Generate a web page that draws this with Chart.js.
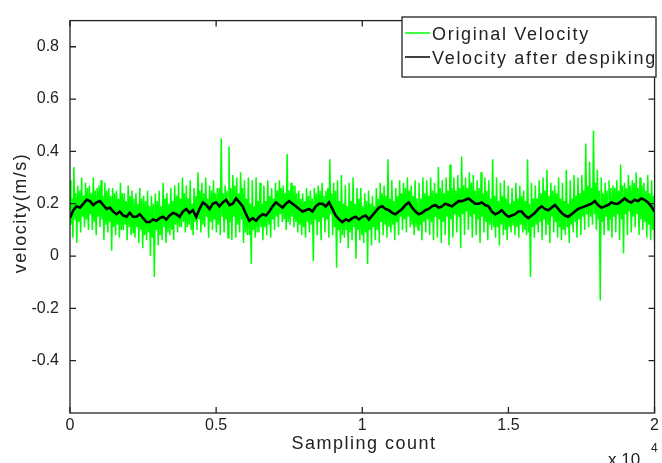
<!DOCTYPE html>
<html>
<head>
<meta charset="utf-8">
<script src="https://cdn.jsdelivr.net/npm/chart.js@4.4.1/dist/chart.umd.min.js"></script>
<style>
  html, body { margin: 0; padding: 0; background: #fff; }
  #wrap { width: 662px; height: 463px; }
</style>
</head>
<body>
<div id="wrap"><canvas id="chart" width="662" height="463"></canvas></div>
<script>
// x axis runs over 2 x 10^4 samples, ticks shown as multiples of 10^4
const sampleCount = 20000;
const xTicks = [0, 5000, 10000, 15000, 20000];
const yTicks = [-0.4, -0.2, 0, 0.2, 0.4, 0.6, 0.8];

// original (spiky) velocity: outer peaks / troughs
const originalPeaks = [
  0.29, 0.34, 0.27, 0.30, 0.28, 0.27, 0.30, 0.26, 0.29, 0.28,
  0.26, 0.26, 0.25, 0.28, 0.24, 0.27, 0.25, 0.24, 0.26, 0.23,
  0.25, 0.23, 0.24, 0.25, 0.28, 0.24, 0.26, 0.27, 0.28, 0.30,
  0.27, 0.29, 0.26, 0.32, 0.28, 0.30, 0.27, 0.29, 0.26, 0.45,
  0.27, 0.42, 0.31, 0.30, 0.32, 0.29, 0.30, 0.29, 0.30, 0.28,
  0.27, 0.29, 0.26, 0.28, 0.29, 0.27, 0.39, 0.28, 0.27, 0.25,
  0.24, 0.26, 0.25, 0.26, 0.27, 0.28, 0.25, 0.37, 0.28, 0.29,
  0.31, 0.27, 0.28, 0.30, 0.26, 0.26, 0.24, 0.25, 0.23, 0.26,
  0.28, 0.27, 0.37, 0.29, 0.26, 0.29, 0.28, 0.30, 0.27, 0.29,
  0.28, 0.30, 0.29, 0.30, 0.28, 0.34, 0.29, 0.30, 0.35, 0.30,
  0.31, 0.38, 0.30, 0.32, 0.31, 0.29, 0.32, 0.30, 0.29, 0.37,
  0.30, 0.28, 0.29, 0.27, 0.26, 0.28, 0.27, 0.25, 0.37, 0.28,
  0.27, 0.29, 0.30, 0.33, 0.28, 0.27, 0.30, 0.28, 0.33, 0.29,
  0.31, 0.30, 0.31, 0.43, 0.36, 0.48, 0.33, 0.30, 0.28, 0.29,
  0.27, 0.29, 0.35, 0.28, 0.31, 0.29, 0.32, 0.30, 0.28, 0.31,
  0.29
];
const originalTroughs = [
  0.07, 0.05, 0.09, 0.11, 0.10, 0.10, 0.08, 0.11, 0.06, 0.09,
  0.02, 0.08, 0.07, 0.10, 0.06, 0.08, 0.07, 0.05, 0.03, 0.06,
  0.00, -0.08, 0.04, 0.06, 0.05, 0.08, 0.06, 0.09, 0.11, 0.09,
  0.12, 0.08, 0.10, 0.09, 0.11, 0.07, 0.10, 0.09, 0.08, 0.09,
  0.07, 0.06, 0.07, 0.09, 0.05, 0.08, -0.03, 0.07, 0.09, 0.06,
  0.08, 0.07, 0.10, 0.11, 0.13, 0.10, 0.12, 0.11, 0.09, 0.08,
  0.07, 0.09, -0.02, 0.08, 0.06, 0.09, 0.07, 0.08, -0.045, 0.05,
  0.07, 0.03, 0.06, -0.01, 0.06, 0.05, -0.03, 0.04, 0.06, 0.05,
  0.08, 0.07, 0.09, 0.06, 0.08, 0.10, 0.09, 0.11, 0.08, 0.10,
  0.06, 0.09, 0.08, 0.06, 0.07, 0.05, 0.08, 0.04, 0.07, 0.09,
  0.03, 0.08, 0.10, 0.07, 0.08, 0.05, 0.09, 0.06, 0.10, 0.07,
  0.04, 0.08, 0.06, 0.09, 0.08, 0.07, 0.09, 0.08, -0.08, 0.07,
  0.09, 0.06, 0.08, 0.05, 0.09, 0.07, 0.06, 0.08, 0.05, 0.09,
  0.07, 0.08, 0.10, 0.11, 0.12, 0.10, -0.17, 0.08, 0.10, 0.07,
  0.09, 0.06, 0.01, 0.08, 0.09, 0.11, 0.08, 0.10, 0.07, 0.06,
  0.05
];
// smaller swings in between, filling the core of the band
const innerPeaks = [
  0.22, 0.24, 0.25, 0.23, 0.26, 0.24, 0.25, 0.27, 0.23, 0.25,
  0.23, 0.24, 0.22, 0.24, 0.21, 0.23, 0.22, 0.20, 0.22, 0.21,
  0.19, 0.20, 0.21, 0.19, 0.22, 0.20, 0.21, 0.23, 0.22, 0.24,
  0.22, 0.20, 0.23, 0.25, 0.24, 0.22, 0.25, 0.24, 0.26, 0.24,
  0.25, 0.26, 0.27, 0.24, 0.26, 0.22, 0.20, 0.19, 0.21, 0.20,
  0.21, 0.23, 0.22, 0.25, 0.26, 0.24, 0.25, 0.27, 0.24, 0.22,
  0.21, 0.23, 0.22, 0.24, 0.25, 0.23, 0.26, 0.24, 0.25, 0.21,
  0.20, 0.19, 0.21, 0.20, 0.22, 0.19, 0.21, 0.20, 0.19, 0.22,
  0.24, 0.23, 0.22, 0.21, 0.23, 0.24, 0.26, 0.25, 0.23, 0.22,
  0.22, 0.24, 0.23, 0.25, 0.24, 0.26, 0.24, 0.25, 0.26, 0.25,
  0.26, 0.27, 0.26, 0.28, 0.25, 0.26, 0.24, 0.25, 0.22, 0.23,
  0.21, 0.23, 0.22, 0.20, 0.21, 0.22, 0.23, 0.21, 0.20, 0.22,
  0.22, 0.24, 0.25, 0.23, 0.25, 0.24, 0.22, 0.21, 0.20, 0.22,
  0.23, 0.24, 0.25, 0.27, 0.26, 0.28, 0.25, 0.24, 0.25, 0.26,
  0.26, 0.25, 0.27, 0.26, 0.27, 0.28, 0.26, 0.27, 0.25, 0.24,
  0.23
];
const innerTroughs = [
  0.12, 0.14, 0.13, 0.15, 0.14, 0.16, 0.13, 0.15, 0.14, 0.12,
  0.13, 0.11, 0.12, 0.10, 0.12, 0.11, 0.09, 0.11, 0.10, 0.08,
  0.09, 0.07, 0.10, 0.08, 0.11, 0.09, 0.10, 0.12, 0.11, 0.13,
  0.11, 0.10, 0.13, 0.14, 0.12, 0.15, 0.13, 0.14, 0.12, 0.15,
  0.14, 0.13, 0.15, 0.12, 0.14, 0.09, 0.08, 0.10, 0.09, 0.11,
  0.11, 0.12, 0.14, 0.15, 0.16, 0.14, 0.13, 0.15, 0.13, 0.12,
  0.11, 0.13, 0.12, 0.14, 0.13, 0.15, 0.14, 0.16, 0.11, 0.10,
  0.08, 0.10, 0.09, 0.11, 0.10, 0.08, 0.09, 0.10, 0.11, 0.10,
  0.13, 0.12, 0.11, 0.12, 0.13, 0.15, 0.14, 0.15, 0.12, 0.11,
  0.12, 0.13, 0.14, 0.13, 0.15, 0.14, 0.13, 0.15, 0.14, 0.16,
  0.15, 0.16, 0.17, 0.15, 0.16, 0.14, 0.15, 0.13, 0.12, 0.11,
  0.11, 0.12, 0.10, 0.11, 0.12, 0.11, 0.12, 0.10, 0.09, 0.11,
  0.12, 0.13, 0.14, 0.12, 0.15, 0.13, 0.11, 0.10, 0.11, 0.12,
  0.13, 0.14, 0.15, 0.16, 0.15, 0.16, 0.14, 0.13, 0.15, 0.14,
  0.15, 0.16, 0.14, 0.16, 0.17, 0.15, 0.16, 0.14, 0.13, 0.12,
  0.10
];

// velocity after despiking (black line)
const despiked = [
  0.145, 0.175, 0.19, 0.185, 0.20, 0.215, 0.21, 0.195, 0.205, 0.21,
  0.195, 0.18, 0.185, 0.17, 0.16, 0.17, 0.155, 0.15, 0.165, 0.15,
  0.15, 0.16, 0.145, 0.13, 0.13, 0.14, 0.135, 0.145, 0.15, 0.14,
  0.155, 0.165, 0.16, 0.15, 0.17, 0.18, 0.165, 0.175, 0.15, 0.18,
  0.205, 0.195, 0.18, 0.20, 0.205, 0.19, 0.205, 0.215, 0.195, 0.20,
  0.22, 0.205, 0.19, 0.16, 0.135, 0.145, 0.135, 0.15, 0.16, 0.155,
  0.17, 0.19, 0.205, 0.195, 0.185, 0.20, 0.21, 0.20, 0.19, 0.18,
  0.17, 0.175, 0.18, 0.17, 0.19, 0.20, 0.20, 0.19, 0.205, 0.18,
  0.155, 0.14, 0.13, 0.14, 0.135, 0.145, 0.15, 0.14, 0.15, 0.155,
  0.14, 0.155, 0.17, 0.185, 0.19, 0.18, 0.175, 0.165, 0.16, 0.17,
  0.18, 0.195, 0.205, 0.185, 0.17, 0.16, 0.165, 0.175, 0.18, 0.19,
  0.195, 0.185, 0.19, 0.20, 0.195, 0.19, 0.20, 0.21, 0.21, 0.215,
  0.22, 0.21, 0.20, 0.20, 0.205, 0.195, 0.19, 0.17, 0.16, 0.165,
  0.175, 0.16, 0.15, 0.155, 0.16, 0.17, 0.17, 0.155, 0.145, 0.155,
  0.165, 0.18, 0.19, 0.18, 0.175, 0.185, 0.195, 0.18, 0.165, 0.155,
  0.15, 0.16, 0.17, 0.18, 0.185, 0.19, 0.195, 0.20, 0.21, 0.195,
  0.185, 0.19, 0.195, 0.205, 0.20, 0.20, 0.21, 0.22, 0.21, 0.205,
  0.215, 0.21, 0.22, 0.215, 0.205, 0.19, 0.17
];

const seriesLabels = ['Original Velocity', 'Velocity after despiking'];

// one cycle of the green trace: peak, inner trough, inner peak, trough
const originalPoints = [];
const gStep = sampleCount / (originalPeaks.length - 0.25);
originalPeaks.forEach((v, j) => {
  const x0 = j * gStep;
  originalPoints.push({ x: x0, y: v });
  originalPoints.push({ x: x0 + gStep * 0.25, y: innerTroughs[j] });
  originalPoints.push({ x: x0 + gStep * 0.5, y: innerPeaks[j] });
  originalPoints.push({ x: x0 + gStep * 0.75, y: originalTroughs[j] });
});
const dStep = sampleCount / (despiked.length - 1);
const despikedPoints = despiked.map((v, i) => ({ x: i * dStep, y: v }));

const TEXT = '#222';
const FONT = '"Liberation Sans", Arial, sans-serif';

// MATLAB-like box, inward ticks, legend and axis titles
const matlabFrame = {
  id: 'matlabFrame',
  afterDraw(chart) {
    const { ctx, chartArea: a, scales } = chart;
    const xs = scales.x, ys = scales.y;
    ctx.save();
    ctx.strokeStyle = '#222';
    ctx.lineWidth = 1.3;
    ctx.strokeRect(a.left, a.top, a.right - a.left, a.bottom - a.top);
    ctx.beginPath();
    xTicks.forEach(v => {
      const px = xs.getPixelForValue(v);
      ctx.moveTo(px, a.bottom); ctx.lineTo(px, a.bottom - 6);
      ctx.moveTo(px, a.top); ctx.lineTo(px, a.top + 6);
    });
    yTicks.forEach(v => {
      const py = ys.getPixelForValue(v);
      ctx.moveTo(a.left, py); ctx.lineTo(a.left + 6, py);
      ctx.moveTo(a.right, py); ctx.lineTo(a.right - 6, py);
    });
    ctx.stroke();

    // legend box
    const lx = 402, ly = 17, lw = 254, lh = 60;
    ctx.fillStyle = '#fff';
    ctx.fillRect(lx, ly, lw, lh);
    ctx.lineWidth = 1.3;
    ctx.strokeRect(lx, ly, lw, lh);
    const rows = [{ c: '#00ff00', y: 33 }, { c: '#000', y: 57 }];
    ctx.save();
    ctx.beginPath();
    ctx.rect(lx, ly, lw - 2, lh);
    ctx.clip();
    ctx.font = '18px ' + FONT;
    ctx.letterSpacing = '1.7px';
    ctx.textBaseline = 'alphabetic';
    ctx.textAlign = 'left';
    rows.forEach((r, i) => {
      ctx.strokeStyle = r.c;
      ctx.lineWidth = 1.5;
      ctx.beginPath();
      ctx.moveTo(405, r.y); ctx.lineTo(430, r.y);
      ctx.stroke();
      ctx.fillStyle = TEXT;
      ctx.fillText(seriesLabels[i], 432, r.y + 7);
    });
    ctx.restore();

    // axis titles
    ctx.fillStyle = TEXT;
    ctx.font = '18px ' + FONT;
    ctx.letterSpacing = '1.5px';
    ctx.textAlign = 'center';
    ctx.textBaseline = 'alphabetic';
    ctx.fillText('Sampling count', 364, 449);

    ctx.save();
    ctx.translate(26, 213);
    ctx.rotate(-Math.PI / 2);
    ctx.fillText('velocity(m/s)', 0, 0);
    ctx.restore();

    // exponent label
    ctx.letterSpacing = '0px';
    ctx.textAlign = 'left';
    ctx.font = '17px ' + FONT;
    ctx.fillText('x 10', 608, 465);
    ctx.font = '12px ' + FONT;
    ctx.fillText('4', 651, 452);
    ctx.restore();
  }
};

new Chart(document.getElementById('chart'), {
  type: 'line',
  data: {
    datasets: [
      {
        label: seriesLabels[0],
        data: originalPoints,
        borderColor: '#00ff00',
        borderWidth: 1.5,
        pointRadius: 0,
        tension: 0,
        order: 2
      },
      {
        label: seriesLabels[1],
        data: despikedPoints,
        borderColor: '#000',
        borderWidth: 2.6,
        pointRadius: 0,
        tension: 0,
        order: 1
      }
    ]
  },
  options: {
    responsive: false,
    animation: false,
    parsing: false,
    layout: { padding: { top: 13, right: 6, left: 0, bottom: 0 } },
    plugins: {
      legend: { display: false },
      tooltip: { enabled: false }
    },
    scales: {
      x: {
        type: 'linear',
        min: 0,
        max: sampleCount,
        afterBuildTicks: s => { s.ticks = xTicks.map(v => ({ value: v })); },
        afterFit: s => { s.height = 50; },
        grid: { display: false, drawTicks: false },
        border: { display: false },
        ticks: {
          padding: 3,
          color: TEXT,
          font: { family: FONT, size: 16 },
          callback: v => String(v / 10000)
        }
      },
      y: {
        min: -0.6,
        max: 0.9,
        afterBuildTicks: s => { s.ticks = yTicks.map(v => ({ value: v })); },
        afterFit: s => { s.width = 70; },
        grid: { display: false, drawTicks: false },
        border: { display: false },
        ticks: {
          padding: 11,
          color: TEXT,
          font: { family: FONT, size: 16 },
          callback: v => String(Math.round(v * 10) / 10)
        }
      }
    }
  },
  plugins: [matlabFrame]
});
</script>
</body>
</html>
